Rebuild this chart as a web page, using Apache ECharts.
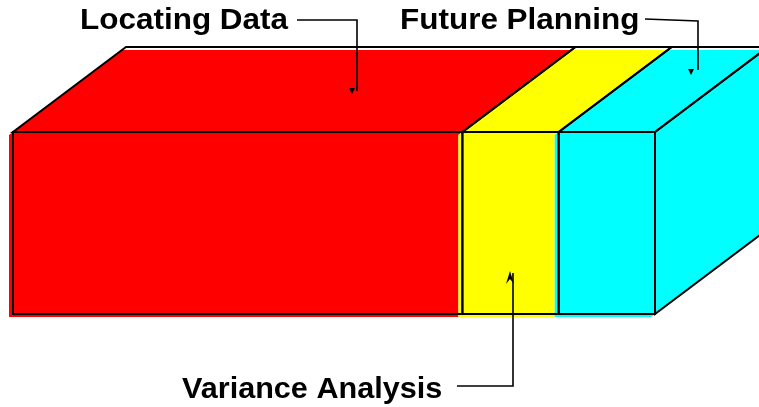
<!DOCTYPE html>
<html>
<head>
<meta charset="utf-8">
<script src="https://cdn.jsdelivr.net/npm/echarts@6/dist/echarts.min.js"></script>
<style>
  html, body { margin: 0; padding: 0; background: #ffffff; }
  #chart { width: 759px; height: 407px; }
</style>
</head>
<body>
<div id="chart"></div>
<script>
// Share of effort per activity (percent of the whole bar)
const categories = ['Locating Data', 'Variance Analysis', 'Future Planning'];
const shares = [70, 15, 15];
const colors = ['#ff0000', '#ffff00', '#00ffff'];

// Cumulative start/end of each stacked segment
const segments = [];
let acc = 0;
shares.forEach(function (v, i) {
  segments.push([acc, acc + v, i]);
  acc += v;
});

// Extrusion of the box and the slight misregistration of fills vs. outlines
const DX = 113, DY = -85;
const FX = -4, FY = 3;
const EDGE = { stroke: '#000000', lineWidth: 2, fill: null };

function shift(pts, dx, dy) {
  return pts.map(function (p) { return [p[0] + dx, p[1] + dy]; });
}

function renderItem(params, api) {
  const idx = api.value(2);
  const a = api.coord([api.value(0), 0]);
  const b = api.coord([api.value(1), 0]);
  const h = api.size([0, 1])[1];
  const x0 = a[0], x1 = b[0];
  const y0 = a[1] - h / 2, y1 = a[1] + h / 2;
  const color = colors[idx];

  const front = [[x0, y0], [x1, y0], [x1, y1], [x0, y1]];
  const top = [[x0, y0], [x1, y0], [x1 + DX, y0 + DY], [x0 + DX, y0 + DY]];
  const side = [[x1, y0], [x1 + DX, y0 + DY], [x1 + DX, y1 + DY], [x1, y1]];

  const faces = [front, top];
  if (idx === shares.length - 1) faces.push(side);

  const children = [];
  faces.forEach(function (f) {
    children.push({
      type: 'polygon',
      shape: { points: shift(f, FX, FY) },
      style: { fill: color, stroke: null },
      z2: 0
    });
  });
  faces.forEach(function (f) {
    children.push({
      type: 'polygon',
      shape: { points: f },
      style: EDGE,
      z2: 10
    });
  });
  return { type: 'group', children: children };
}

const FONT = 'bold 29px "Liberation Sans", Arial, sans-serif';
function label(text, x, y, sx) {
  return {
    type: 'text',
    x: x, y: y,
    z: 100,
    scaleX: sx,
    style: { text: text, font: FONT, fill: '#000000', textVerticalAlign: 'top' }
  };
}
function leader(points) {
  return {
    type: 'polyline',
    z: 100,
    shape: { points: points },
    style: { stroke: '#000000', lineWidth: 1.6, fill: null }
  };
}
function head(points) {
  return {
    type: 'polygon',
    z: 100,
    shape: { points: points },
    style: { fill: '#000000', stroke: null }
  };
}

const chart = echarts.init(document.getElementById('chart'), null, { renderer: 'canvas' });
chart.setOption({
  animation: false,
  backgroundColor: '#ffffff',
  grid: { left: 13, right: 104, top: 132, bottom: 93 },
  xAxis: { type: 'value', min: 0, max: 100, show: false },
  yAxis: { type: 'category', data: ['total'], show: false },
  series: [{
    type: 'custom',
    renderItem: renderItem,
    data: segments,
    clip: false
  }],
  graphic: [
    label(categories[0], 80, 6, 1.085),
    leader([[297, 20], [357, 20], [357, 91]]),
    head([[349, 88], [355, 88], [352, 94]]),

    label(categories[2], 400, 6, 1.085),
    leader([[645, 19], [698, 21], [698, 70]]),
    head([[688, 69], [694, 69], [691, 75]]),

    label(categories[1], 182, 375, 1.055),
    leader([[457, 386], [513, 386], [513, 273]]),
    head([[510, 271], [514, 284], [510, 279], [506, 284]])
  ]
});
</script>
</body>
</html>
